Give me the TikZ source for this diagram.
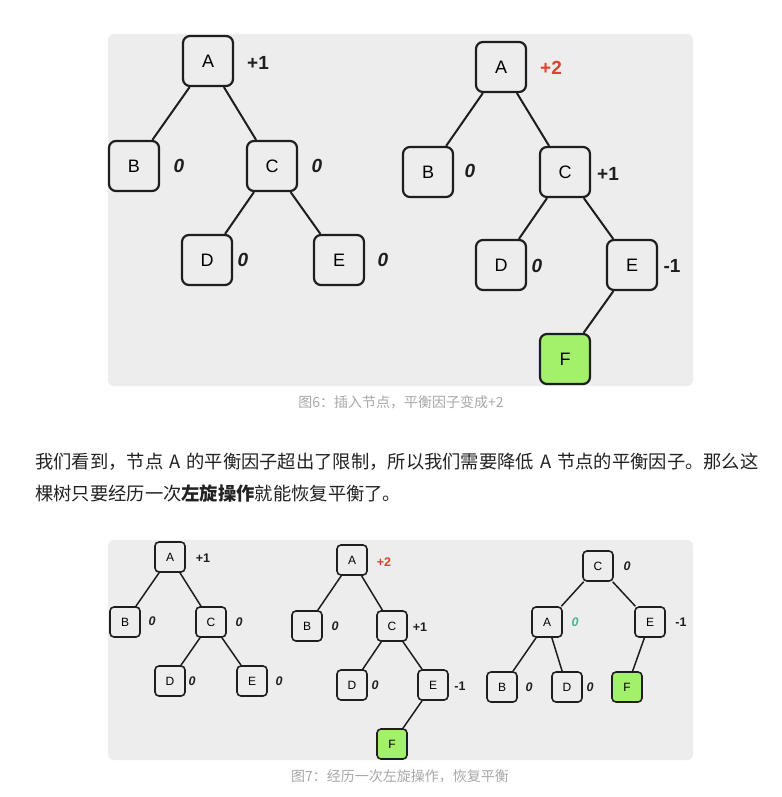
\documentclass[tikz,border=0pt]{standalone}
\usepackage{fontspec}
\setmainfont{Liberation Sans}
\newfontfamily\cjk{Noto Sans CJK SC}
\usetikzlibrary{positioning}
\definecolor{panelgray}{RGB}{237,237,237}
\definecolor{inkblack}{RGB}{30,30,30}
\definecolor{leafgreen}{RGB}{163,240,106}
\definecolor{alertred}{RGB}{226,64,46}
\definecolor{calmteal}{RGB}{78,176,144}
\definecolor{captiongray}{RGB}{168,168,168}
\definecolor{bodytext}{RGB}{34,34,34}

\begin{document}
\begin{tikzpicture}[
    x=1pt, y=-1pt,
    bigbox/.style={draw=inkblack, fill=panelgray, line width=2.2pt, rounded corners=7pt,
        minimum size=50pt, inner sep=0pt, font=\fontsize{18}{18}\selectfont},
    smallbox/.style={draw=inkblack, fill=panelgray, line width=1.6pt, rounded corners=4pt,
        minimum size=30pt, inner sep=0pt, font=\fontsize{12}{12}\selectfont},
    bigbf/.style={font=\fontsize{19}{19}\selectfont\bfseries, text=inkblack},
    smallbf/.style={font=\fontsize{12.5}{12.5}\selectfont\bfseries, text=inkblack},
    zero/.style={font=\fontsize{19}{19}\selectfont\bfseries\itshape, text=inkblack},
    smallzero/.style={font=\fontsize{12.5}{12.5}\selectfont\bfseries\itshape, text=inkblack},
    link/.style={draw=inkblack, line width=2pt},
    thinlink/.style={draw=inkblack, line width=1.5pt}
]
\useasboundingbox (0,0) rectangle (781,797);
\fill[white] (0,0) rectangle (781,797);

% Panels
\fill[panelgray, rounded corners=6pt] (108,34) rectangle (693,386);
\fill[panelgray, rounded corners=6pt] (108,540) rectangle (693,760);

% Figure 6, left tree
\node[bigbox] (A1) at (208,61) {A};
\node[bigbox] (B1) at (134,166) {B};
\node[bigbox] (C1) at (272,166) {C};
\node[bigbox] (D1) at (207,260) {D};
\node[bigbox] (E1) at (339,260) {E};
\draw[link] (A1) -- (B1);
\draw[link] (A1) -- (C1);
\draw[link] (C1) -- (D1);
\draw[link] (C1) -- (E1);
\node[bigbf] (fA1) at (258,63) {+1};
\node[zero] (fB1) at (179,166) {0};
\node[zero] (fC1) at (317,166) {0};
\node[zero] (fD1) at (243,260) {0};
\node[zero] (fE1) at (383,260) {0};

% Figure 6, right tree (after inserting F)
\node[bigbox] (A2) at (501,67) {A};
\node[bigbox] (B2) at (428,172) {B};
\node[bigbox] (C2) at (565,172) {C};
\node[bigbox] (D2) at (501,265) {D};
\node[bigbox] (E2) at (632,265) {E};
\node[bigbox, fill=leafgreen] (F2) at (565,359) {F};
\draw[link] (A2) -- (B2);
\draw[link] (A2) -- (C2);
\draw[link] (C2) -- (D2);
\draw[link] (C2) -- (E2);
\draw[link] (E2) -- (F2);
\node[bigbf, text=alertred] (fA2) at (551,68) {+2};
\node[zero] (fB2) at (470,171) {0};
\node[bigbf] (fC2) at (608,174) {+1};
\node[zero] (fD2) at (537,266) {0};
\node[bigbf] (fE2) at (672,266) {-1};

\node[font=\cjk\fontsize{14}{14}\selectfont, text=captiongray] (cap6) at (401,402)
    {图6：插入节点，平衡因子变成+2};

% Paragraph
\node[anchor=west, inner sep=0pt, text=bodytext, font=\cjk\fontsize{18.3}{18.3}\selectfont] (line1) at (35,462)
    {我们看到，节点\hspace{6pt}A\hspace{6pt}的平衡因子超出了限制，所以我们需要降低\hspace{6pt}A\hspace{6pt}节点的平衡因子。那么这};
\node[anchor=west, inner sep=0pt, text=bodytext, font=\cjk\fontsize{18.3}{18.3}\selectfont] (line2) at (35,494)
    {棵树只要经历一次\textbf{左旋操作}就能恢复平衡了。};

% Figure 7, first tree
\node[smallbox] (A3) at (170,557) {A};
\node[smallbox] (B3) at (125,622) {B};
\node[smallbox] (C3) at (211,622) {C};
\node[smallbox] (D3) at (170,681) {D};
\node[smallbox] (E3) at (252,681) {E};
\draw[thinlink] (A3) -- (B3);
\draw[thinlink] (A3) -- (C3);
\draw[thinlink] (C3) -- (D3);
\draw[thinlink] (C3) -- (E3);
\node[smallbf] (fA3) at (203,558) {+1};
\node[smallzero] (fB3) at (152,621) {0};
\node[smallzero] (fC3) at (239,622) {0};
\node[smallzero] (fD3) at (192,681) {0};
\node[smallzero] (fE3) at (279,681) {0};

% Figure 7, second tree
\node[smallbox] (A4) at (352,560) {A};
\node[smallbox] (B4) at (307,626) {B};
\node[smallbox] (C4) at (392,626) {C};
\node[smallbox] (D4) at (352,685) {D};
\node[smallbox] (E4) at (433,685) {E};
\node[smallbox, fill=leafgreen] (F4) at (392,744) {F};
\draw[thinlink] (A4) -- (B4);
\draw[thinlink] (A4) -- (C4);
\draw[thinlink] (C4) -- (D4);
\draw[thinlink] (C4) -- (E4);
\draw[thinlink] (E4) -- (F4);
\node[smallbf, text=alertred] (fA4) at (384,562) {+2};
\node[smallzero] (fB4) at (335,626) {0};
\node[smallbf] (fC4) at (420,627) {+1};
\node[smallzero] (fD4) at (375,685) {0};
\node[smallbf] (fE4) at (460,686) {-1};

% Figure 7, after left rotation
\node[smallbox] (C5) at (598,566) {C};
\node[smallbox] (A5) at (547,622) {A};
\node[smallbox] (E5) at (650,622) {E};
\node[smallbox] (B5) at (502,687) {B};
\node[smallbox] (D5) at (567,687) {D};
\node[smallbox, fill=leafgreen] (F5) at (627,687) {F};
\draw[thinlink] (C5) -- (A5);
\draw[thinlink] (C5) -- (E5);
\draw[thinlink] (A5) -- (B5);
\draw[thinlink] (A5) -- (D5);
\draw[thinlink] (E5) -- (F5);
\node[smallzero] (fC5) at (627,566) {0};
\node[smallzero, text=calmteal] (fA5) at (575,622) {0};
\node[smallbf] (fE5) at (681,622) {-1};
\node[smallzero] (fB5) at (529,687) {0};
\node[smallzero] (fD5) at (590,687) {0};

\node[font=\cjk\fontsize{14}{14}\selectfont, text=captiongray] (cap7) at (400,776)
    {图7：经历一次左旋操作，恢复平衡};
\end{tikzpicture}
\end{document}
